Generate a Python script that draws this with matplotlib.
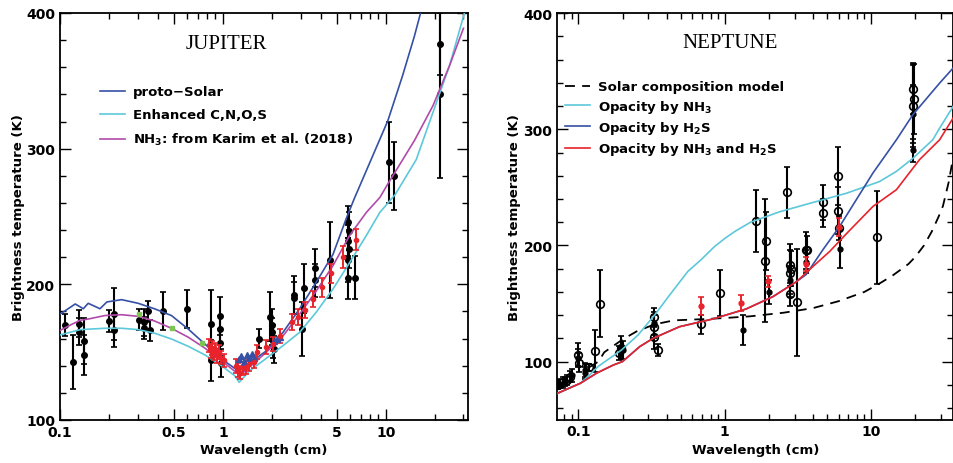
import matplotlib
matplotlib.use("Agg")
import matplotlib.pyplot as plt
from matplotlib.ticker import FixedLocator, NullFormatter, FixedFormatter

plt.rcParams['font.family'] = ['DejaVu Sans']
plt.rcParams['mathtext.default'] = 'bf'

# ---------------- JUPITER model curves ----------------
jup_proto_wl = [0.1, 0.124, 0.139, 0.149, 0.176, 0.194, 0.239, 0.302, 0.38, 0.483, 0.613, 0.775, 0.98,
                1.25, 1.85, 2.34, 2.96, 3.74, 4.74, 5.7, 6.4, 8.0, 10.3, 12.7, 15.0, 16.4]
jup_proto_T = [178, 185.5, 182, 186, 182, 187, 188.7, 186, 182, 177, 167, 156, 145,
               136, 151, 164.6, 182, 201.5, 222, 248, 263, 290, 320.6, 354, 383, 400.5]

jup_cnos_wl = [0.1, 0.133, 0.189, 0.239, 0.302, 0.38, 0.483, 0.613, 0.775, 0.98, 1.18, 1.26,
               1.46, 1.85, 2.34, 2.96, 3.74, 4.74, 6.0, 7.6, 9.2, 11.4, 15.4, 19.5, 24.6, 30.5]
jup_cnos_T = [162.7, 166.6, 167.6, 167.6, 166.6, 164, 159.7, 154.3, 148, 140, 132.7, 127.8,
              136.3, 145.5, 154.8, 164.6, 179.4, 196.5, 216, 236, 253, 266, 292, 326.8, 361, 400.5]

jup_karim_wl = [0.1, 0.118, 0.133, 0.149, 0.189, 0.239, 0.302, 0.38, 0.483, 0.613, 0.775, 0.98, 1.18, 1.28,
                1.85, 2.34, 2.96, 3.74, 4.74, 6.0, 7.6, 9.2, 10.3, 15.0, 19.5, 24.6, 30.0]
jup_karim_T = [166, 170.5, 173.5, 174.4, 177, 177.6, 176.4, 173, 167.6, 161, 153, 143.7, 136, 133,
               150, 162, 178, 195, 213.7, 236, 253, 264, 274, 306, 331.7, 361, 388.7]

# ---------------- JUPITER observations ----------------
jup_black_wl = [0.107, 0.12, 0.131, 0.131, 0.141, 0.141, 0.2, 0.214, 0.214, 0.306, 0.329, 0.348, 0.33,
                0.357, 0.426, 0.6, 0.85, 0.85, 0.96, 0.96, 0.96, 0.98, 1.67, 1.95, 1.99, 2.0, 2.02,
                2.05, 2.73, 2.75, 3.07, 3.14, 3.67, 3.67, 4.56, 5.9, 5.95, 5.9, 5.95, 5.9, 5.9, 6.5,
                10.4, 11.2, 21.5, 21.5]
jup_black_T = [170, 143, 171, 165, 158, 148, 173, 178, 166, 174, 172, 180, 168,
               166, 180, 182, 171, 144, 177, 167, 157, 142, 160, 176, 170, 165, 158,
               152, 192, 190, 167, 197, 212, 203, 218, 246, 239, 232, 226, 218, 205, 205,
               290, 280, 377, 340]
jup_black_err = [8, 20, 10, 10, 17, 15, 8, 19, 12, 8, 10, 8, 8,
                 8, 14, 14, 25, 15, 14, 10, 10, 10, 7, 18, 12, 10, 12,
                 10, 14, 12, 20, 18, 14, 12, 28, 12, 14, 12, 14, 16, 16, 16,
                 30, 25, 23, 62]

jup_red_wl = [0.82, 0.84, 0.86, 0.88, 0.9, 0.92, 0.95, 0.98, 1.02, 1.2, 1.24, 1.28, 1.32, 1.38, 1.45,
              1.55, 1.63, 1.85, 2.03, 2.24, 2.64, 2.9, 3.2, 3.58, 4.04, 4.6, 5.46, 6.6]
jup_red_T = [155, 151, 153, 149, 152, 147, 150, 146, 144, 140, 137, 135, 138, 139, 141,
             143, 150, 154, 156, 162, 172, 176, 181, 189, 198, 208, 220, 233]
jup_red_err = [5, 5, 5, 5, 5, 5, 5, 5, 5, 5, 5, 5, 5, 5, 5,
               5, 5, 5, 5, 5, 6, 6, 6, 6, 7, 7, 8, 8]

jup_blue_wl = [1.25, 1.3, 1.35, 1.4, 1.45, 1.5, 1.55, 2.05, 2.15, 2.25]
jup_blue_T = [145, 147, 143, 148, 146, 149, 146, 158, 160, 161]

jup_green_wl = [0.305, 0.49, 0.74]
jup_green_T = [178, 168, 157]

# ---------------- NEPTUNE model curves ----------------
nep_solar_wl = [0.118, 0.137, 0.15, 0.2, 0.25, 0.33, 0.45, 0.7, 1.0, 1.5, 2.5, 4.0, 6.0, 9.0,
                11.0, 14.0, 18.0, 20.0, 23.0, 26.0, 29.0, 31.0, 34.0, 36.5]
nep_solar_T = [95, 100, 108, 119, 126, 132, 135.5, 136.5, 137.5, 139, 142, 146, 152, 160,
               166, 174, 184, 190, 200, 212, 225, 234, 255, 277]

nep_nh3_wl = [0.072, 0.103, 0.118, 0.137, 0.197, 0.256, 0.333, 0.43, 0.56, 0.69, 0.85, 1.0, 1.17,
              1.5, 2.37, 4.0, 6.8, 11.4, 14.9, 19.3, 26.4, 29.4, 36.5]
nep_nh3_T = [72.7, 81.3, 88, 96, 110, 123, 140.4, 159, 177.7, 187.8, 199, 206, 212,
             220, 229, 237, 245, 255, 263.8, 275, 291, 301, 320]

nep_h2s_wl = [0.072, 0.103, 0.133, 0.173, 0.2, 0.263, 0.324, 0.49, 0.83, 1.4, 2.14, 3.09, 3.6,
              4.69, 6.1, 10.3, 14.9, 19.3, 29.4, 36.5]
nep_h2s_T = [72.7, 81.3, 90, 97, 100, 113, 120, 130, 136.7, 145.3, 156, 168.8, 175,
             196.4, 216.4, 262.4, 291, 312.6, 339.8, 353]

nep_both_wl = [0.072, 0.103, 0.133, 0.173, 0.2, 0.263, 0.324, 0.49, 0.83, 1.4, 2.14, 3.09, 4.0,
               5.2, 6.77, 10.3, 14.9, 21.4, 29.4, 36.5]
nep_both_T = [72.7, 81.3, 90, 97, 100, 113, 120, 130, 136.7, 145.3, 156, 168.8, 181.8,
              194.7, 210, 233.6, 248, 273.8, 291, 310]

# ---------------- NEPTUNE observations ----------------
nep_open_wl = [0.073, 0.078, 0.084, 0.088, 0.1, 0.101, 0.118, 0.13, 0.14, 0.19, 0.195, 0.33, 0.33,
               0.33, 0.35, 0.69, 0.935, 1.63, 1.9, 1.87, 2.68, 2.8, 2.83, 2.8, 2.8, 3.12, 3.57,
               3.65, 4.69, 4.69, 5.95, 5.95, 6.0, 10.9, 19.3, 19.6, 19.3]
nep_open_T = [80, 82, 84, 87, 106, 99, 95, 109, 150, 107, 112, 138, 130,
              121, 110, 132, 159, 221, 204, 187, 246, 183, 180, 176, 158, 151, 196,
              196, 237, 228, 260, 230, 215, 207, 335, 326, 320]
nep_open_err = [4, 5, 4, 5, 10, 8, 3, 18, 29, 6, 10, 8, 10,
                10, 5, 8, 20, 27, 25, 53, 22, 18, 15, 20, 10, 46, 16,
                12, 15, 12, 25, 20, 10, 40, 22, 30, 35]

nep_fill_wl = [0.075, 0.081, 0.09, 0.1, 0.11, 0.11, 0.2, 0.33, 1.33, 2.0, 2.8, 3.6, 6.1, 19.3, 19.3]
nep_fill_T = [81, 83, 88, 103, 90, 93, 110, 133, 127, 160, 170, 186, 197, 282, 313]
nep_fill_err = [4, 4, 6, 8, 5, 6, 8, 10, 13, 10, 12, 10, 16, 10, 25]

nep_red_wl = [0.69, 1.3, 1.98, 3.57, 6.0]
nep_red_T = [148, 150.5, 169, 184, 216]
nep_red_err = [8, 7, 5, 6, 8]

# ---------------- styles ----------------
C_BLUE = '#3550A5'
C_CYAN = '#5CC8DA'
C_MAG = '#B24AAA'
C_RED = '#E8232B'
C_GREEN = '#7CC555'

fig = plt.figure(figsize=(9.54, 4.64), dpi=100)
ax1 = fig.add_axes([0.0629, 0.0927, 0.4277, 0.8772])
ax2 = fig.add_axes([0.5842, 0.0935, 0.4151, 0.8758])

lab_kw = dict(fontsize=9.5, fontweight='bold')

def style_axes(ax):
    ax.tick_params(which='both', direction='in', top=True, right=True, width=1.0)
    ax.tick_params(which='major', length=8, labelsize=10)
    ax.tick_params(which='minor', length=4)
    for lab in ax.get_xticklabels() + ax.get_yticklabels():
        lab.set_fontweight('bold')
    for s in ax.spines.values():
        s.set_linewidth(1.3)

# ---------- JUPITER ----------
ax = ax1
ax.plot(jup_proto_wl, jup_proto_T, color=C_BLUE, lw=1.2, label='proto\u2212Solar', zorder=4)
ax.plot(jup_cnos_wl, jup_cnos_T, color=C_CYAN, lw=1.2, label='Enhanced C,N,O,S', zorder=4)
ax.plot(jup_karim_wl, jup_karim_T, color=C_MAG, lw=1.2, label='NH$_3$: from Karim et al. (2018)', zorder=4)
ax.errorbar(jup_black_wl, jup_black_T, yerr=jup_black_err, fmt='o', color='black', ms=4,
            mfc='black', mec='black', elinewidth=1.5, capsize=2.5, capthick=1.2, zorder=3)
ax.errorbar(jup_red_wl, jup_red_T, yerr=jup_red_err, fmt='o', color=C_RED, ms=3,
            elinewidth=1.4, capsize=2.5, capthick=1.2, zorder=5)
ax.plot(jup_blue_wl, jup_blue_T, linestyle='none', marker='^', color=C_BLUE, ms=5, zorder=5)
ax.plot(jup_green_wl, jup_green_T, linestyle='none', marker='s', color=C_GREEN, ms=3.5, zorder=5)

ax.set_xscale('log')
ax.set_xlim(0.1, 32)
ax.set_ylim(100, 400)
ax.xaxis.set_major_locator(FixedLocator([0.1, 0.5, 1, 5, 10]))
ax.xaxis.set_major_formatter(FixedFormatter(['0.1', '0.5', '1', '5', '10']))
ax.xaxis.set_minor_locator(FixedLocator([0.2, 0.3, 0.4, 0.6, 0.7, 0.8, 0.9, 2, 3, 4, 6, 7, 8, 9, 20, 30]))
ax.xaxis.set_minor_formatter(NullFormatter())
ax.yaxis.set_major_locator(FixedLocator([100, 200, 300, 400]))
ax.yaxis.set_minor_locator(FixedLocator(list(range(120, 400, 20))))
style_axes(ax)
ax.set_xlabel('Wavelength (cm)', labelpad=3, **lab_kw)
ax.set_ylabel('Brightness temperature (K)', labelpad=1, **lab_kw)
ax.text(0.407, 0.926, 'JUPITER', transform=ax.transAxes, ha='center', va='center',
        fontsize=15, family='Liberation Serif')
ax.legend(loc='upper left', bbox_to_anchor=(0.098, 0.822), frameon=False, borderpad=0,
          borderaxespad=0, handlelength=1.9, handletextpad=0.6, labelspacing=0.75,
          prop={'size': 9.5, 'weight': 'bold'})

# ---------- NEPTUNE ----------
ax = ax2
ax.plot(nep_solar_wl, nep_solar_T, color='black', lw=1.3, dashes=(5.5, 4), label='Solar composition model', zorder=4)
ax.plot(nep_nh3_wl, nep_nh3_T, color=C_CYAN, lw=1.2, label='Opacity by NH$_3$', zorder=4)
ax.plot(nep_h2s_wl, nep_h2s_T, color=C_BLUE, lw=1.2, label='Opacity by H$_2$S', zorder=4)
ax.plot(nep_both_wl, nep_both_T, color=C_RED, lw=1.2, label='Opacity by NH$_3$ and H$_2$S', zorder=4)
ax.errorbar(nep_open_wl, nep_open_T, yerr=nep_open_err, fmt='o', color='black', ms=5.5,
            mfc='none', mec='black', mew=1.2, elinewidth=1.5, capsize=2.5, capthick=1.2, zorder=3)
ax.errorbar(nep_fill_wl, nep_fill_T, yerr=nep_fill_err, fmt='o', color='black', ms=3.5,
            elinewidth=1.5, capsize=2.5, capthick=1.2, zorder=3)
ax.errorbar(nep_red_wl, nep_red_T, yerr=nep_red_err, fmt='o', color=C_RED, ms=3.5,
            elinewidth=1.4, capsize=2.5, capthick=1.2, zorder=5)

ax.set_xscale('log')
ax.set_xlim(0.0717, 36.5)
ax.set_ylim(50, 400)
ax.xaxis.set_major_locator(FixedLocator([0.1, 1, 10]))
ax.xaxis.set_major_formatter(FixedFormatter(['0.1', '1', '10']))
ax.xaxis.set_minor_locator(FixedLocator([0.08, 0.09, 0.2, 0.3, 0.4, 0.5, 0.6, 0.7, 0.8, 0.9,
                                         2, 3, 4, 5, 6, 7, 8, 9, 20, 30]))
ax.xaxis.set_minor_formatter(NullFormatter())
ax.yaxis.set_major_locator(FixedLocator([100, 200, 300, 400]))
ax.yaxis.set_minor_locator(FixedLocator(list(range(60, 400, 20))))
style_axes(ax)
ax.set_xlabel('Wavelength (cm)', labelpad=3, **lab_kw)
ax.set_ylabel('Brightness temperature (K)', labelpad=2, **lab_kw)
ax.text(0.436, 0.929, 'NEPTUNE', transform=ax.transAxes, ha='center', va='center',
        fontsize=15, family='Liberation Serif')
ax.legend(loc='upper left', bbox_to_anchor=(0.019, 0.835), frameon=False, borderpad=0,
          borderaxespad=0, handlelength=1.9, handletextpad=0.6, labelspacing=0.33,
          prop={'size': 9.5, 'weight': 'bold'})

fig.savefig('out.png', dpi=100)
